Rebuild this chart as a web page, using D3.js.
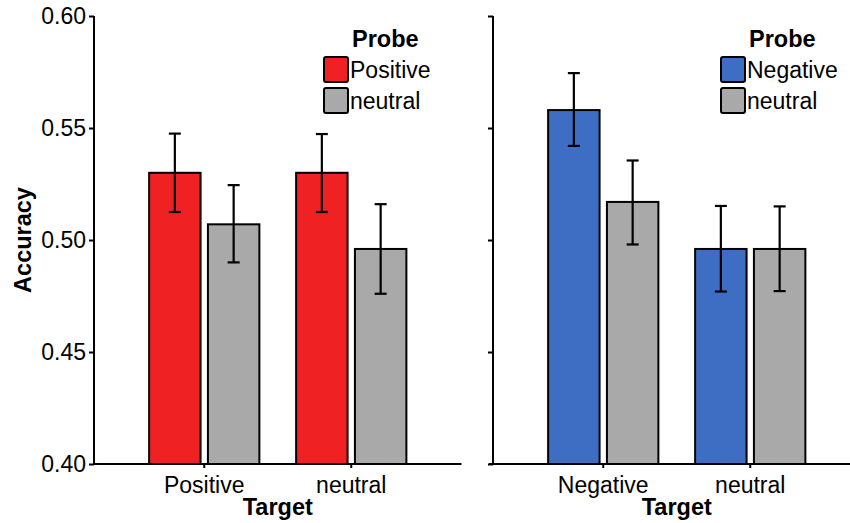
<!DOCTYPE html>
<html lang="en">
<head>
  <meta charset="UTF-8">
  <title>Accuracy by Target and Probe</title>
  <script src="https://d3js.org/d3.v7.min.js"></script>
  <style>
    body { margin: 0; background: #fff; }
    text { font-family: "Liberation Sans", Arial, Helvetica, sans-serif; fill: #000; }
  </style>
</head>
<body>
<script>
  // data: mean accuracy and error bar ends
  const leftTargets = ["Positive", "neutral"];
  const leftProbes = ["Positive", "neutral"];
  const leftMeans = [0.530, 0.507, 0.530, 0.496];
  const leftLow = [0.5125, 0.490, 0.5125, 0.476];
  const leftHigh = [0.5475, 0.5245, 0.5473, 0.516];

  const rightTargets = ["Negative", "neutral"];
  const rightProbes = ["Negative", "neutral"];
  const rightMeans = [0.558, 0.517, 0.496, 0.496];
  const rightLow = [0.542, 0.498, 0.477, 0.4772];
  const rightHigh = [0.5745, 0.5355, 0.5152, 0.515];

  const yTicks = [0.40, 0.45, 0.50, 0.55, 0.60];

  const width = 850, height = 523;
  const fs = 23, fsBold = 23.5;
  const svg = d3.select("body").append("svg")
    .attr("width", width)
    .attr("height", height);

  const y = d3.scaleLinear().domain([0.4, 0.6]).range([464, 16]);

  // build rows target x probe from the arrays
  function rows(targets, probes, means, lo, hi) {
    const out = [];
    targets.forEach((t, i) => {
      probes.forEach((p, j) => {
        const k = i * probes.length + j;
        out.push({ target: t, probe: p, mean: means[k], lo: lo[k], hi: hi[k] });
      });
    });
    return out;
  }

  function panel(opts) {
    const g = svg.append("g");
    const x0 = d3.scaleBand()
      .domain(opts.targets)
      .range([opts.left, opts.left + 367.5])
      .paddingInner(0)
      .paddingOuter(0.25);
    const step = x0.step();
    const x1 = d3.scaleBand()
      .domain(opts.probes)
      .range([-0.375 * step, 0.375 * step])
      .paddingInner(0.125);
    const color = d3.scaleOrdinal().domain(opts.probes).range([opts.color, "#a9a9a9"]);
    const data = rows(opts.targets, opts.probes, opts.means, opts.lo, opts.hi);
    const cx = d => x0(d.target) + step / 2 + x1(d.probe);

    g.selectAll("rect.bar")
      .data(data)
      .enter().append("rect")
      .attr("class", "bar")
      .attr("x", d => cx(d))
      .attr("y", d => y(d.mean))
      .attr("width", x1.bandwidth())
      .attr("height", d => y(0.4) - y(d.mean))
      .attr("fill", d => color(d.probe))
      .attr("stroke", "#000")
      .attr("stroke-width", 2);

    // error bars
    const eb = g.selectAll("g.err")
      .data(data)
      .enter().append("g")
      .attr("class", "err")
      .attr("stroke", "#000")
      .attr("stroke-width", 2.2);
    const mid = d => cx(d) + x1.bandwidth() / 2;
    eb.append("line")
      .attr("x1", mid).attr("x2", mid)
      .attr("y1", d => y(d.lo)).attr("y2", d => y(d.hi));
    eb.append("line")
      .attr("x1", d => mid(d) - 6).attr("x2", d => mid(d) + 6)
      .attr("y1", d => y(d.lo)).attr("y2", d => y(d.lo));
    eb.append("line")
      .attr("x1", d => mid(d) - 6).attr("x2", d => mid(d) + 6)
      .attr("y1", d => y(d.hi)).attr("y2", d => y(d.hi));

    // x axis
    const xAxis = d3.axisBottom(x0).tickSize(4).tickPadding(9);
    const ax = g.append("g")
      .attr("transform", `translate(0,${y(0.4)})`)
      .call(xAxis);
    ax.select(".domain").remove();
    ax.selectAll(".tick line").attr("stroke-width", 2);
    ax.selectAll(".tick text").attr("font-size", fs).attr("dy", "0.7em");
    g.append("line")
      .attr("x1", opts.axisStart).attr("x2", Math.min(opts.left + 367.5, width))
      .attr("y1", y(0.4)).attr("y2", y(0.4))
      .attr("stroke", "#000").attr("stroke-width", 2);

    // y axis
    const yAxis = d3.axisLeft(y).tickValues(yTicks).tickSize(5).tickPadding(3)
      .tickFormat(opts.labels ? d3.format(".2f") : "");
    const ay = g.append("g")
      .attr("transform", `translate(${opts.left},0)`)
      .call(yAxis);
    ay.select(".domain").attr("stroke-width", 2).attr("d", `M0,${y(0.6)}V${y(0.4)}`);
    ay.selectAll(".tick line").attr("stroke-width", 2);
    ay.selectAll(".tick text").attr("font-size", fs);

    // x title
    g.append("text")
      .attr("x", opts.left + 367.5 / 2)
      .attr("y", 515)
      .attr("text-anchor", "middle")
      .attr("font-size", fsBold)
      .attr("font-weight", "bold")
      .text("Target");

    // legend
    const lg = g.append("g");
    lg.append("text")
      .attr("x", opts.legendX + 28)
      .attr("y", 47)
      .attr("font-size", fsBold)
      .attr("font-weight", "bold")
      .text("Probe");
    const items = lg.selectAll("g.item")
      .data(opts.probes)
      .enter().append("g")
      .attr("class", "item")
      .attr("transform", (d, i) => `translate(${opts.legendX},${57 + i * 31})`);
    items.append("rect")
      .attr("width", 24).attr("height", 25).attr("rx", 2)
      .attr("fill", d => color(d))
      .attr("stroke", "#000").attr("stroke-width", 2);
    items.append("text")
      .attr("x", 26)
      .attr("y", 21)
      .attr("font-size", fs)
      .text(d => d);
  }

  panel({
    targets: leftTargets, probes: leftProbes,
    means: leftMeans, lo: leftLow, hi: leftHigh,
    left: 94, axisStart: 94, color: "#ef2123", labels: true, legendX: 324
  });

  panel({
    targets: rightTargets, probes: rightProbes,
    means: rightMeans, lo: rightLow, hi: rightHigh,
    left: 493, axisStart: 489, color: "#3e6ec4", labels: false, legendX: 721
  });

  // y title
  svg.append("text")
    .attr("transform", "translate(31,240) rotate(-90)")
    .attr("text-anchor", "middle")
    .attr("font-size", fsBold)
    .attr("font-weight", "bold")
    .text("Accuracy");
</script>
</body>
</html>
